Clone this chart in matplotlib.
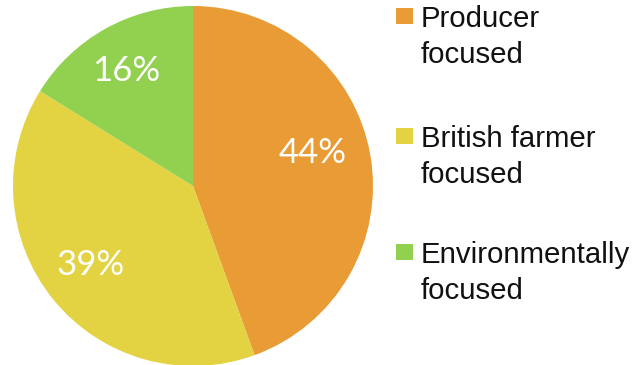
import numpy as np
import matplotlib
matplotlib.use("Agg")
import matplotlib.pyplot as plt
from matplotlib.patches import Rectangle

categories = ["Producer\nfocused", "British farmer\nfocused", "Environmentally\nfocused"]
shares = [44, 39, 16]
colors = ["#E99B35", "#E3D342", "#92D050"]

W, H = 637, 365
fig = plt.figure(figsize=(W / 100, H / 100), dpi=100)

# pie placed in pixel space: centre (193, 186), radius 180
cx, cy, r = 193, 186, 180
ax = fig.add_axes([(cx - r) / W, (H - cy - r) / H, 2 * r / W, 2 * r / H])
wedges, _ = ax.pie(shares, colors=colors, startangle=90, counterclock=False,
                   radius=1.0, wedgeprops=dict(linewidth=0))
ax.set_xlim(-1, 1)
ax.set_ylim(-1, 1)
ax.set_aspect("equal")
ax.axis("off")

# percentage labels, nudged in angle / radius for each wedge
angle_nudge = [5.5, -1.5, 1.0]
label_r = [0.69, 0.72, 0.74]
for w, v, da, lr in zip(wedges, shares, angle_nudge, label_r):
    theta = np.deg2rad((w.theta1 + w.theta2) / 2 + da)
    ax.text(lr * np.cos(theta), lr * np.sin(theta), f"{v}%",
            ha="center", va="center", color="white", fontweight="normal",
            fontsize=25, family=["Lato", "DejaVu Sans"])

# legend: square marker + two-line label per category
legend_font = ["Liberation Sans", "DejaVu Sans"]
top_baselines = [27, 147, 263]
for lab, col, yb in zip(categories, colors, top_baselines):
    sq_top = yb - 19
    fig.add_artist(Rectangle((396 / W, 1 - (sq_top + 16) / H), 17 / W, 16 / H,
                             transform=fig.transFigure, color=col, lw=0))
    first, second = lab.split("\n")
    fig.text(421 / W, 1 - yb / H, first, ha="left", va="baseline",
             fontsize=21.2, family=legend_font, color="#111111")
    fig.text(421 / W, 1 - (yb + 36) / H, second, ha="left", va="baseline",
             fontsize=21.2, family=legend_font, color="#111111")

fig.savefig("out.png", dpi=100)
